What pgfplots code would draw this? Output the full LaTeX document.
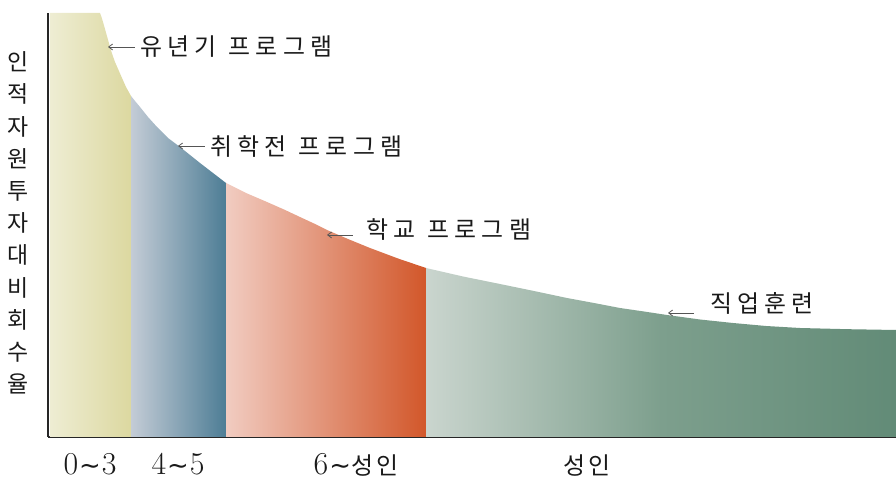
\documentclass[border=0pt]{standalone}
\usepackage{pgfplots}
\pgfplotsset{compat=1.18}
\usepackage{fontspec}
\usetikzlibrary{arrows.meta}
\newfontfamily\cjk[LetterSpace=22]{Noto Sans CJK KR}
\newfontfamily\cjktick[LetterSpace=10]{Noto Sans CJK KR}
\newfontfamily\cjkplain{Noto Sans CJK KR}
\newfontfamily\symb{DejaVu Sans}

\definecolor{yA}{HTML}{EEEDD3}
\definecolor{yB}{HTML}{DCD8A0}
\definecolor{bA}{HTML}{C4CCD6}
\definecolor{bB}{HTML}{4D7D95}
\definecolor{oA}{HTML}{F1CCC1}
\definecolor{oB}{HTML}{D2572A}
\definecolor{gA}{HTML}{CAD5CE}
\definecolor{gM}{HTML}{7D9F8D}
\definecolor{gB}{HTML}{628B77}
\definecolor{txt}{HTML}{1A1A1A}
\definecolor{arr}{HTML}{555555}

\newcommand{\til}{{\symb\fontsize{26}{30}\selectfont\kern1bp ∼\kern1bp}}

\tikzset{
  prog/.style={anchor=west, text=txt, font=\cjk\fontsize{24}{28}\selectfont, inner sep=0},
  pointer/.style={arr, line width=0.8bp, {Straight Barb[length=4bp,width=6bp]}-},
  agegrp/.style={text=txt, inner sep=0, anchor=base, font=\fontsize{32}{36}\selectfont},
}

\begin{document}
\begin{tikzpicture}
\begin{axis}[
  x=1bp, y=1bp,
  xmin=0, xmax=848, ymin=0, ymax=424,
  axis lines*=left,
  axis line style={line width=2.4bp, color=black!85},
  xtick=\empty, ytick=\empty,
  clip=false,
]
% ages 0-3
\addplot[draw=none, left color=yA, right color=yB] coordinates {
  (2,424) (52,424) (53.5,420) (55,415) (57,408) (59.5,399) (62,390)
  (64.5,382) (67,375) (70.5,367) (74,359) (78,350) (83,341)
} \closedcycle;
% ages 4-5
\addplot[draw=none, left color=bA, right color=bB] coordinates {
  (83,341) (87,336) (92,330) (100,320) (109,310) (120,299) (132,290)
  (142,282) (152,274) (165,264) (178,254)
} \closedcycle;
% school age
\addplot[draw=none, left color=oA, right color=oB] coordinates {
  (178,254) (198,244) (219,235) (236,227.5) (252,220) (266,213.5) (279,207)
  (300,198) (322,189) (350,178.5) (378,169)
} \closedcycle;
% adults
\addplot[draw=none, left color=gA, right color=gB, middle color=gM] coordinates {
  (378,169) (415,160.5) (452,153) (486,146) (519,139) (546,134) (572,129)
  (596,125.5) (619,122) (652,117.5) (685,114) (718,111) (752,109)
  (800,107.8) (848,107)
} \closedcycle;

% program labels
\draw[pointer] (axis cs:60,390) -- (axis cs:87,390);
\node[prog] at (axis cs:92,390) {유년기\hspace{12bp}프로그램};
\draw[pointer] (axis cs:130,291) -- (axis cs:157,291);
\node[prog] at (axis cs:162,290) {취학전\hspace{12bp}프로그램};
\draw[pointer] (axis cs:279,202) -- (axis cs:305,202);
\node[prog] at (axis cs:318,207) {학교\hspace{12bp}프로그램};
\draw[pointer] (axis cs:620,124) -- (axis cs:646,124);
\node[prog] at (axis cs:662,134) {직업훈련};

% vertical axis title
\node[text=txt, align=center, font=\cjkplain\fontsize{23}{32.3}\selectfont, inner sep=0] at (axis cs:-30,214)
  {인\\적\\자\\원\\투\\자\\대\\비\\회\\수\\율};

% age groups
\node[agegrp] at (axis cs:42,-38) {0\til3};
\node[agegrp] at (axis cs:130,-38) {4\til5};
\node[agegrp] at (axis cs:308,-38) {6\til{\cjktick\fontsize{24}{28}\selectfont 성인}};
\node[agegrp, font=\cjktick\fontsize{24}{28}\selectfont] at (axis cs:539,-38) {성인};

\coordinate (bl) at (axis cs:-48,-43);
\coordinate (tr) at (axis cs:848,437);
\end{axis}
\pgfresetboundingbox
\path[use as bounding box] (bl) rectangle (tr);
\end{tikzpicture}
\end{document}
